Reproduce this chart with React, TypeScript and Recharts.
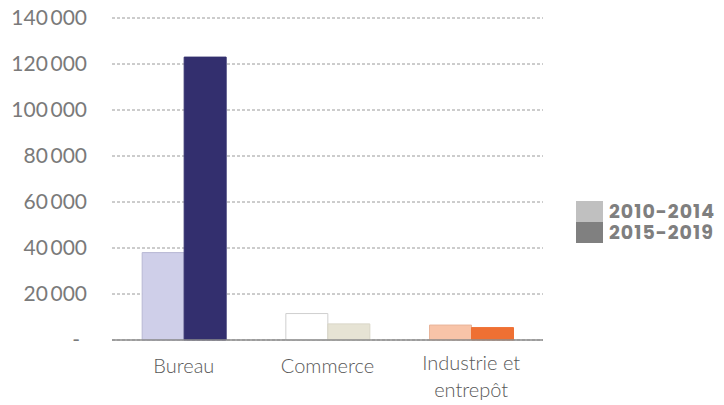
import React from "react";
import { BarChart, Bar, XAxis, YAxis, CartesianGrid, Cell } from "recharts";

const categories = ["Bureau", "Commerce", "Industrie et\nentrepôt"];
const values2010 = [38000, 11500, 6500];
const values2015 = [123000, 7000, 5400];
const yTicks = [0, 20000, 40000, 60000, 80000, 100000, 120000, 140000];
const seriesNames = ["2010-2014", "2015-2019"];

const colors2010 = ["#cfcfe9", "#ffffff", "#f8c4a8"];
const strokes2010 = ["#b8b8d4", "#cfcfcf", "#e8b49a"];
const colors2015 = ["#332f6e", "#e6e3d4", "#ef7033"];
const strokes2015 = ["#332f6e", "#d8d5c6", "#ef7033"];
const legendColors = ["#c0c0c0", "#808080"];

const data = categories.map((c, i) => ({ name: c, p1: values2010[i], p2: values2015[i] }));

const fmt = (v: number) => {
  if (v === 0) return "-";
  const s = String(v);
  return s.replace(/\B(?=(\d{3})+(?!\d))/g, "\u2009");
};

const YTick = (props: any) => {
  const { x, y, payload } = props;
  const v = payload.value;
  return (
    <text
      x={v === 0 ? x - 24 : x - 17}
      y={y}
      dy={7}
      textAnchor="end"
      fill="#7a7a7a"
      fontSize={21}
      fontFamily="Lato"
    >
      {fmt(v)}
    </text>
  );
};

const XTick = (props: any) => {
  const { x, y, payload } = props;
  const lines = String(payload.value).split("\n");
  const base = lines.length > 1 ? y + 22 : y + 25;
  return (
    <g>
      {lines.map((l, i) => (
        <text
          key={i}
          x={x}
          y={base + i * 27}
          textAnchor="middle"
          fill="#595959"
          fontSize={20}
          fontWeight={300}
          fontFamily="Lato"
        >
          {l}
        </text>
      ))}
    </g>
  );
};

export default function App() {
  return (
    <div style={{ position: "absolute", left: 0, top: 0, width: 724, height: 405, background: "#fff" }}>
      <BarChart
        width={724}
        height={405}
        data={data}
        margin={{ top: 18, right: 181, bottom: 0, left: 0 }}
        barCategoryGap="21%"
        barGap={0}
      >
        <CartesianGrid vertical={false} stroke="#9a9a9a" strokeDasharray="3 2" />
        <XAxis
          dataKey="name"
          height={65}
          tick={<XTick />}
          tickLine={false}
          axisLine={{ stroke: "#8c8c8c", strokeWidth: 1.5 }}
          interval={0}
        />
        <YAxis
          width={112}
          domain={[0, 140000]}
          ticks={yTicks}
          tick={<YTick />}
          tickLine={false}
          axisLine={false}
          interval={0}
        />
        <Bar dataKey="p1" name={seriesNames[0]} isAnimationActive={false}>
          {data.map((_, i) => (
            <Cell key={i} fill={colors2010[i]} stroke={strokes2010[i]} strokeWidth={1} />
          ))}
        </Bar>
        <Bar dataKey="p2" name={seriesNames[1]} isAnimationActive={false}>
          {data.map((_, i) => (
            <Cell key={i} fill={colors2015[i]} stroke={strokes2015[i]} strokeWidth={1} />
          ))}
        </Bar>
      </BarChart>
      <div
        style={{
          position: "absolute",
          left: 576,
          top: 201,
          fontFamily: "Poppins, 'Open Sans', sans-serif",
          fontWeight: 700,
          fontSize: 19,
          letterSpacing: 1,
          color: "#7f7f7f",
          lineHeight: "21px",
        }}
      >
        {seriesNames.map((n, i) => (
          <div key={n} style={{ display: "flex", alignItems: "center", height: 21, whiteSpace: "nowrap" }}>
            <span style={{ display: "inline-block", width: 27, height: 21, background: legendColors[i], marginRight: 6 }} />
            <span style={{ display: "inline-block", height: 21, lineHeight: "21px" }}>{n}</span>
          </div>
        ))}
      </div>
    </div>
  );
}
